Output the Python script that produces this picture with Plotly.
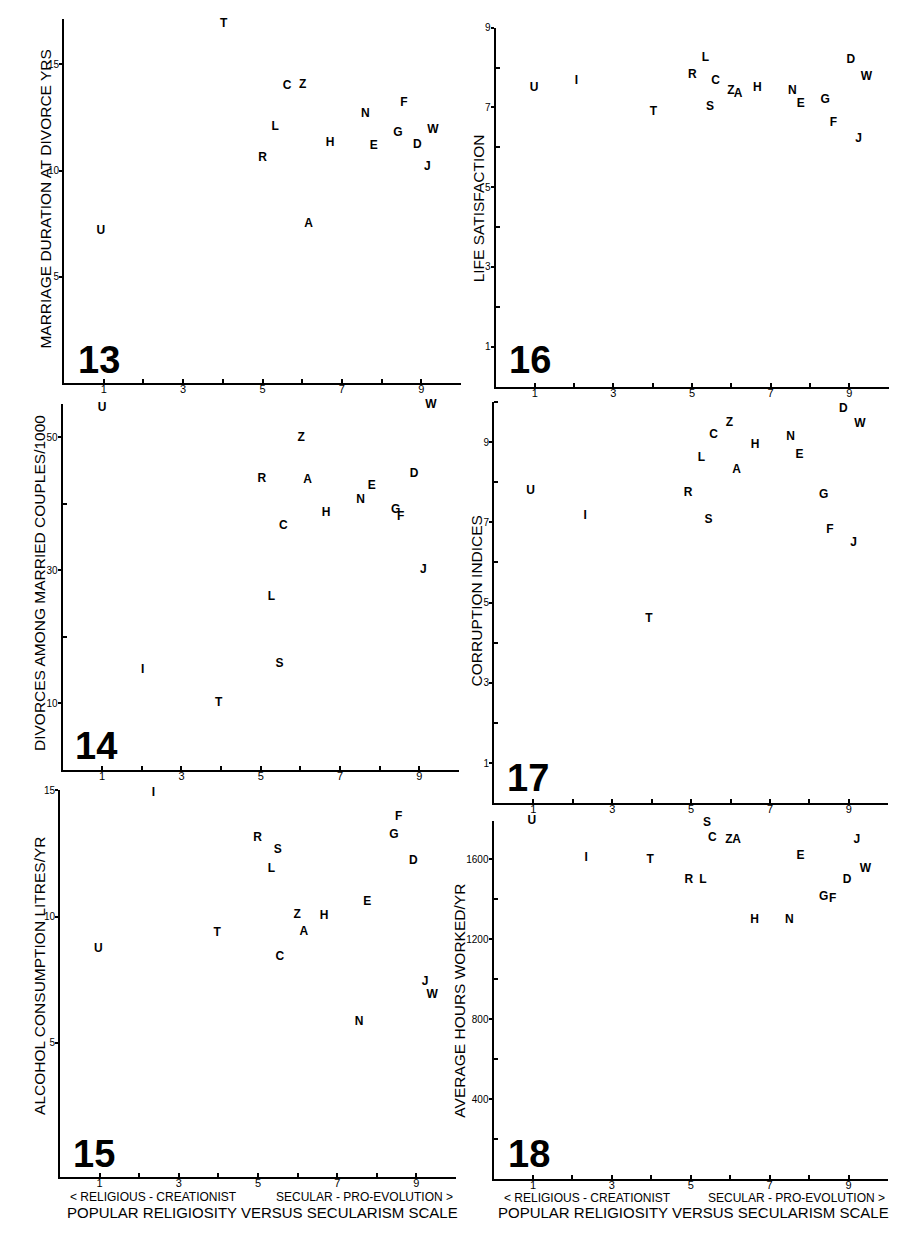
import plotly.graph_objects as go

# The page body has an 8 px margin, so the figure is made 16 px smaller and
# all target pixel positions are shifted by 8 px.
PAGE_W, PAGE_H = 918, 1240
OFF = 8
W, H = PAGE_W - 2 * OFF, PAGE_H - 2 * OFF
FONT = "Liberation Sans, Arial, Helvetica, sans-serif"

# ---------------- data ----------------
# x = popular religiosity vs secularism scale, y = panel variable
p13_labels = ["T", "C", "Z", "F", "N", "L", "G", "W", "H", "E", "D", "R", "J", "A", "U"]
p13_x = [4.02, 5.62, 6.01, 8.56, 7.59, 5.32, 8.41, 9.29, 6.70, 7.80, 8.90, 5.00, 9.15, 6.16, 0.93]
p13_y = [16.9, 13.98, 14.05, 13.16, 12.66, 12.03, 11.78, 11.90, 11.30, 11.17, 11.20, 10.60, 10.19, 7.48, 7.16]

p16_labels = ["U", "I", "T", "R", "L", "C", "S", "Z", "A", "H", "N", "E", "G", "F", "D", "W", "J"]
p16_x = [0.98, 2.06, 4.02, 5.01, 5.34, 5.60, 5.46, 5.99, 6.17, 6.66, 7.55, 7.77, 8.39, 8.60, 9.04, 9.44, 9.24]
p16_y = [7.48, 7.65, 6.89, 7.82, 8.23, 7.66, 7.01, 7.42, 7.34, 7.48, 7.42, 7.09, 7.19, 6.60, 8.20, 7.77, 6.20]

p14_labels = ["U", "W", "Z", "D", "R", "A", "E", "N", "G", "F", "H", "C", "J", "L", "S", "I", "T"]
p14_x = [1.00, 9.29, 6.02, 8.87, 5.03, 6.18, 7.80, 7.52, 8.40, 8.53, 6.65, 5.57, 9.10, 5.27, 5.47, 2.02, 3.94]
p14_y = [54.4, 54.8, 49.9, 44.5, 43.8, 43.6, 42.7, 40.6, 39.1, 38.1, 38.6, 36.7, 30.0, 26.0, 16.0, 15.1, 10.1]

p17_labels = ["D", "Z", "W", "C", "N", "H", "E", "L", "A", "U", "R", "G", "I", "S", "F", "J", "T"]
p17_x = [8.86, 5.97, 9.28, 5.57, 7.52, 6.62, 7.75, 5.26, 6.15, 0.93, 4.92, 8.36, 2.31, 5.44, 8.52, 9.12, 3.93]
p17_y = [9.84, 9.47, 9.45, 9.18, 9.12, 8.94, 8.69, 8.61, 8.31, 7.79, 7.74, 7.69, 7.17, 7.07, 6.81, 6.48, 4.58]

p15_labels = ["I", "F", "G", "R", "S", "D", "L", "E", "Z", "H", "T", "A", "U", "C", "J", "W", "N"]
p15_x = [2.36, 8.55, 8.43, 4.99, 5.50, 8.92, 5.34, 7.76, 5.99, 6.67, 3.97, 6.16, 0.97, 5.55, 9.22, 9.40, 7.55]
p15_y = [14.91, 13.95, 13.25, 13.13, 12.65, 12.21, 11.88, 10.57, 10.06, 10.01, 9.35, 9.39, 8.72, 8.40, 7.42, 6.90, 5.81]

p18_labels = ["U", "S", "C", "Z", "A", "J", "E", "I", "T", "W", "R", "L", "D", "G", "F", "H", "N"]
p18_x = [0.97, 5.41, 5.55, 5.97, 6.16, 9.21, 7.78, 2.35, 3.97, 9.43, 4.95, 5.31, 8.96, 8.37, 8.60, 6.62, 7.50]
p18_y = [1790, 1782, 1703, 1694, 1697, 1694, 1616, 1603, 1595, 1548, 1494, 1497, 1494, 1409, 1401, 1297, 1294]

x_major = [1, 3, 5, 7, 9]
x_minor = [2, 4, 6, 8, 10]

# ---------------- panel layout (pixel boxes in page coordinates) ----------------
panels = [
    dict(num="13", labels=p13_labels, x=p13_x, y=p13_y,
         box=(64, 461, 12.7, 379), yr=[0, 17.15], ymaj=[5, 10, 15], ymin=[],
         title="MARRIAGE DURATION AT DIVORCE YRS", tpos=(45.5, 194), npos=(99, 356)),
    dict(num="16", labels=p16_labels, x=p16_x, y=p16_y,
         box=(495.5, 888.5, 21.7, 382.5), yr=[0, 9], ymaj=[1, 3, 5, 7, 9], ymin=[2, 4, 6, 8],
         title="LIFE SATISFACTION", tpos=(478.8, 203.5), npos=(529.5, 356)),
    dict(num="14", labels=p14_labels, x=p14_x, y=p14_y,
         box=(62.5, 459, 400, 767.7), yr=[0, 55], ymaj=[10, 30, 50], ymin=[20, 40],
         title="DIVORCES AMONG MARRIED COUPLES/1000", tpos=(38.8, 580), npos=(96, 744)),
    dict(num="17", labels=p17_labels, x=p17_x, y=p17_y,
         box=(494, 888.3, 398, 801), yr=[0, 10], ymaj=[1, 3, 5, 7, 9], ymin=[2, 4, 6, 8, 10],
         title="CORRUPTION INDICES", tpos=(476.8, 597.5), npos=(528, 776)),
    dict(num="15", labels=p15_labels, x=p15_x, y=p15_y,
         box=(60, 456, 788.3, 1177), yr=[-0.33, 15], ymaj=[5, 10, 15], ymin=[],
         title="ALCOHOL CONSUMPTION LITRES/YR", tpos=(39.7, 975), npos=(94, 1154)),
    dict(num="18", labels=p18_labels, x=p18_x, y=p18_y,
         box=(493.5, 888, 819, 1179), yr=[0, 1790], ymaj=[400, 800, 1200, 1600], ymin=[200, 600, 1000, 1400],
         title="AVERAGE HOURS WORKED/YR", tpos=(460, 999.5), npos=(528.5, 1154)),
]


def px(v):
    return (v - OFF) / W


def py(v):
    return 1 - (v - OFF) / H


fig = go.Figure()
layout = dict(
    width=W, height=H,
    margin=dict(l=0, r=0, t=0, b=0),
    paper_bgcolor="white", plot_bgcolor="white",
    showlegend=False,
    font=dict(family=FONT, color="black"),
    annotations=[],
)

for i, p in enumerate(panels, start=1):
    xs = "" if i == 1 else str(i)
    x0, x1, ytop, ybot = p["box"]
    fig.add_trace(go.Scatter(
        x=p["x"], y=p["y"], text=p["labels"], mode="text",
        textposition="middle center",
        textfont=dict(family=FONT, size=12, color="black", weight="bold"),
        cliponaxis=False, hoverinfo="skip", showlegend=False,
        xaxis="x" + xs, yaxis="y" + xs,
    ))
    layout["xaxis" + xs] = dict(
        domain=[px(x0), px(x1)], range=[0, 10], anchor="y" + xs,
        showline=True, linecolor="black", linewidth=2, mirror=False,
        showgrid=False, zeroline=False,
        ticks="inside", ticklen=4, tickwidth=1.5, tickcolor="black",
        tickmode="array", tickvals=x_major, ticktext=[str(v) for v in x_major],
        ticklabelstandoff=-5,
        tickfont=dict(family=FONT, size=11, color="black"),
        minor=dict(tickmode="array", tickvals=x_minor, ticks="inside", ticklen=4,
                   tickwidth=1.5, tickcolor="black", showgrid=False),
        fixedrange=True,
    )
    ymd = dict(
        domain=[py(ybot), py(ytop)], range=p["yr"], anchor="x" + xs,
        showline=True, linecolor="black", linewidth=2,
        showgrid=False, zeroline=False,
        ticks="outside", ticklen=3, tickwidth=1.5, tickcolor="black",
        tickmode="array", tickvals=p["ymaj"], ticktext=[str(v) for v in p["ymaj"]],
        ticklabelstandoff=-2,
        tickfont=dict(family=FONT, size=10, color="black"),
        fixedrange=True,
    )
    if p["ymin"]:
        ymd["minor"] = dict(tickmode="array", tickvals=p["ymin"], ticks="inside", ticklen=4,
                            tickwidth=1.5, tickcolor="black", showgrid=False)
    layout["yaxis" + xs] = ymd

    # axis title (vertical)
    layout["annotations"].append(dict(
        text=p["title"], xref="paper", yref="paper",
        x=px(p["tpos"][0]), y=py(p["tpos"][1]), xanchor="center", yanchor="middle",
        textangle=-90, showarrow=False,
        font=dict(family=FONT, size=15.5, color="black"),
    ))
    # panel number
    layout["annotations"].append(dict(
        text=p["num"], xref="paper", yref="paper",
        x=px(p["npos"][0]), y=py(p["npos"][1]), xanchor="center", yanchor="middle",
        showarrow=False,
        font=dict(family=FONT, size=38, color="black", weight="bold"),
    ))

# bottom scale labels for both columns
for (l, r, c, yy1, yy2) in [(68, 455, 262.5, 1197, 1212), (501.5, 887, 693, 1197.5, 1212.5)]:
    layout["annotations"].append(dict(
        text="&lt; RELIGIOUS - CREATIONIST", xref="paper", yref="paper",
        x=px(l), y=py(yy1), xanchor="left", yanchor="middle", showarrow=False,
        font=dict(family=FONT, size=12, color="black"),
    ))
    layout["annotations"].append(dict(
        text="SECULAR - PRO-EVOLUTION &gt;", xref="paper", yref="paper",
        x=px(r), y=py(yy1), xanchor="right", yanchor="middle", showarrow=False,
        font=dict(family=FONT, size=12, color="black"),
    ))
    layout["annotations"].append(dict(
        text="POPULAR RELIGIOSITY VERSUS SECULARISM SCALE", xref="paper", yref="paper",
        x=px(c), y=py(yy2), xanchor="center", yanchor="middle", showarrow=False,
        font=dict(family=FONT, size=15, color="black"),
    ))

fig.update_layout(**layout)
fig.write_html("out.html")
